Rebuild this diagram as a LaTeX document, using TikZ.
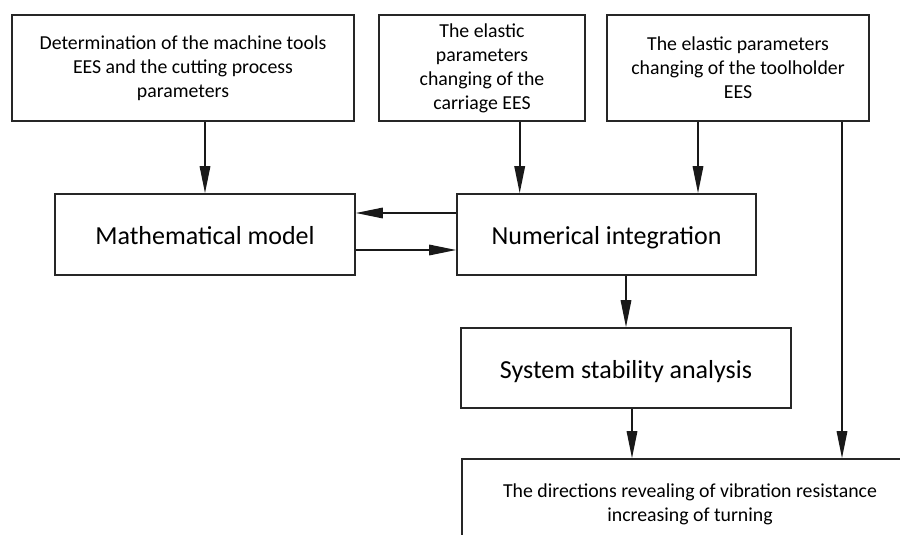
\documentclass[tikz,border=0pt]{standalone}
\usepackage{fontspec}
\setmainfont{Carlito}
\usetikzlibrary{arrows.meta}

\tikzset{
  blockbox/.style={draw=black!85, line width=1.6pt, align=center, inner sep=0pt,
    font=\fontsize{19.8}{24}\selectfont},
  bigbox/.style={blockbox, font=\fontsize{26}{30}\selectfont, text height=25pt, text depth=5pt},
  arr/.style={line width=1.6pt, draw=black!90, -{Triangle[length=27pt,width=10.5pt]}}
}

\begin{document}
\begin{tikzpicture}[x=1pt,y=1pt]
      \useasboundingbox (0,0) rectangle (900,-535);
      \clip (0,0) rectangle (900,-535);
      % input blocks
      \node [blockbox, minimum width=342, minimum height=106] (det) at (183,-68)
        {Determination of the machine tools\\EES and the cutting process\\parameters};
      \node [blockbox, minimum width=206, minimum height=106] (carr) at (482,-68)
        {The elastic\\parameters\\changing of the\\carriage EES};
      \node [blockbox, minimum width=262, minimum height=106] (tool) at (738,-68)
        {The elastic parameters\\changing of the toolholder\\EES};
      % main blocks
      \node [bigbox, minimum width=300, minimum height=81] (math) at (205,-234.5) {Mathematical model};
      \node [bigbox, minimum width=299, minimum height=81] (numint) at (606.5,-234.5) {Numerical integration};
      \node [bigbox, minimum width=330, minimum height=80] (stab) at (626,-368) {System stability analysis};
      \node [blockbox, minimum width=456, minimum height=90] (dirs) at (690,-504)
        {The directions revealing of vibration resistance\\increasing of turning};
      % helper points
      \coordinate (c2) at ([xshift=63.5]numint.north west);
      \coordinate (c3) at ([xshift=91.5]numint.north);
      \coordinate (th) at ([xshift=104]tool.south);
      \coordinate (up) at ([yshift=21.5]math.east);
      \coordinate (lo) at ([yshift=-15.5]math.east);
      \coordinate (sd) at ([xshift=6]stab.south);
      % connectors
      \draw [arr] (det.south -| math.north) -- (math.north);
      \draw [arr] (c2 |- carr.south) -- (c2);
      \draw [arr] (c3 |- tool.south) -- (c3);
      \draw [arr] (up -| numint.west) -- (up);
      \draw [arr] (lo) -- (lo -| numint.west);
      \draw [arr] (numint.south -| stab.north) -- (stab.north);
      \draw [arr] (sd) -- (sd |- dirs.north);
      \draw [arr] (th) -- (th |- dirs.north);
\end{tikzpicture}
\end{document}
